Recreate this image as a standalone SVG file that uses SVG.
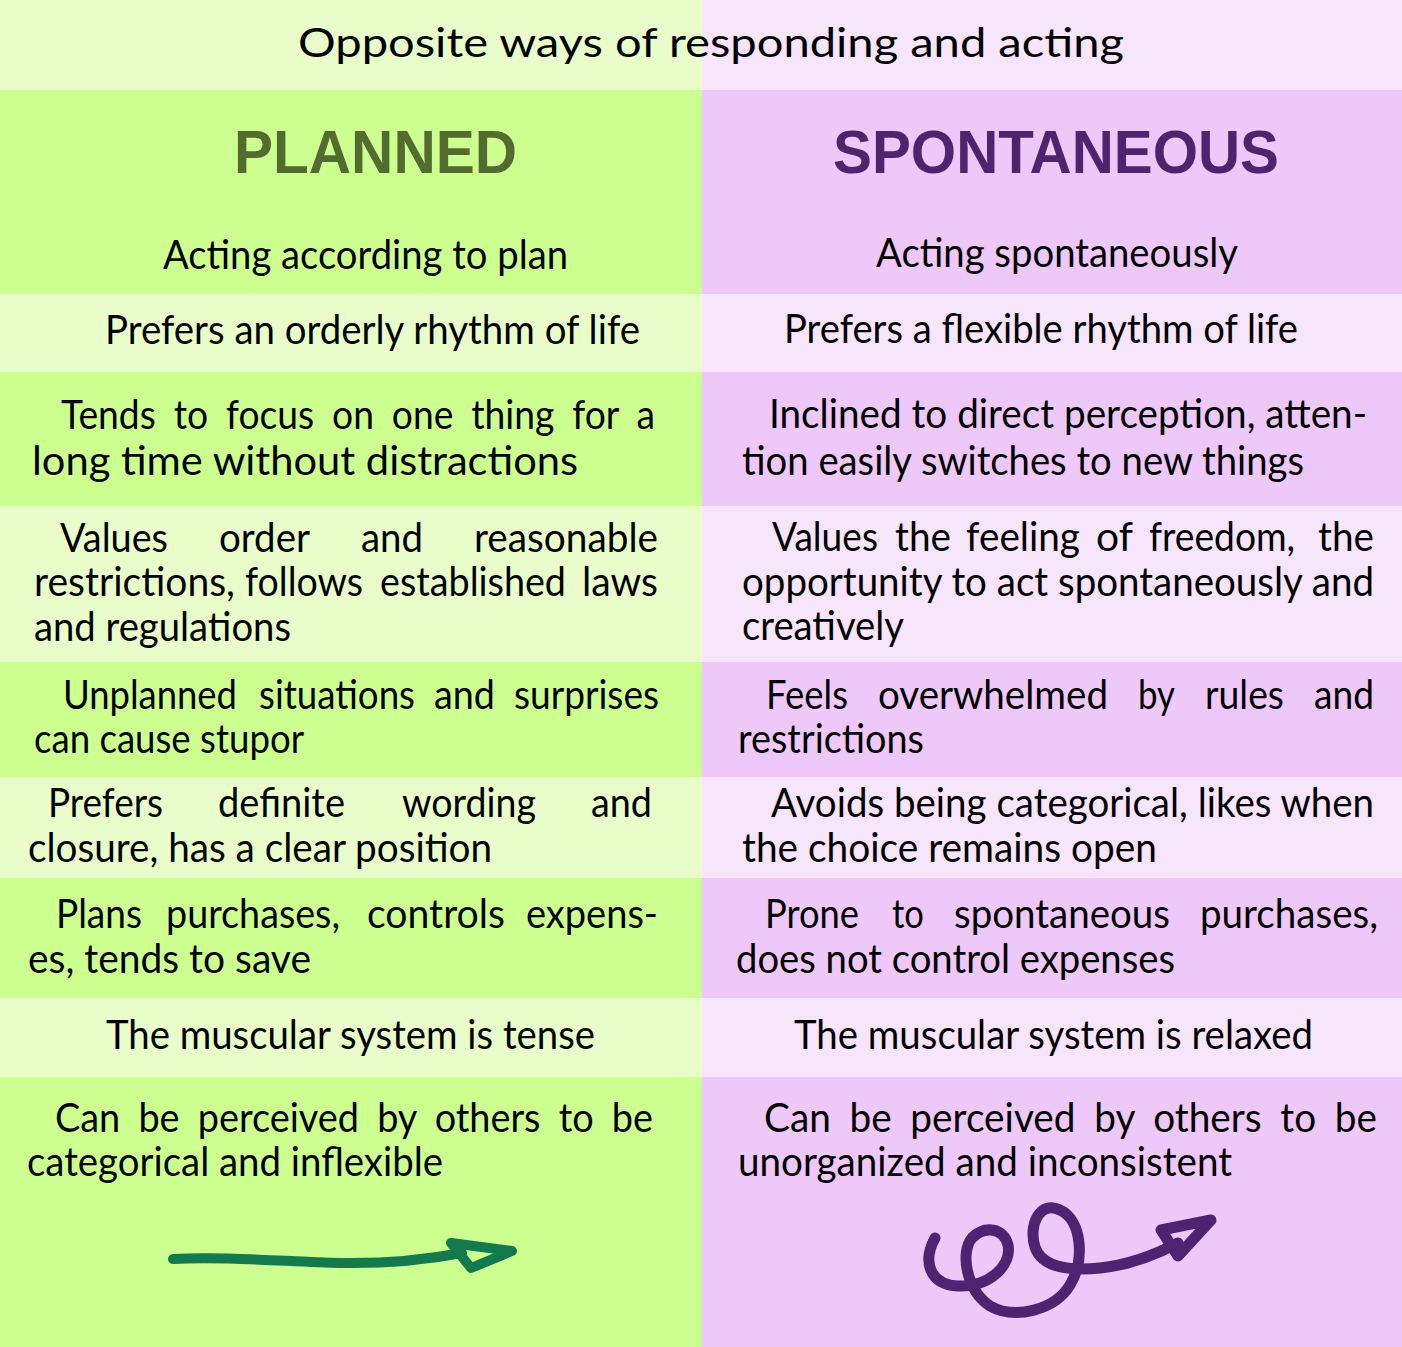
<svg xmlns="http://www.w3.org/2000/svg" width="1402" height="1347" viewBox="0 0 1402 1347">
<style>
.lg{fill:#E8FDCA}.dg{fill:#CCFF90}.lp{fill:#F7E5FB}.dp{fill:#EDC8F9}
text{font-family:Lato,"Open Sans","DejaVu Sans",sans-serif;font-size:40px;fill:#000}
.hd{font-family:"Liberation Sans",Arial,sans-serif;font-weight:bold;font-size:61px}
.gt{fill:#546B30}.pt{fill:#50236F}
.ws{word-spacing:9px}
</style>
<g id="title">
<rect class="lg" x="0" y="0" width="702" height="90"/>
<rect class="lp" x="702" y="0" width="700" height="90"/>
<text x="298" y="57" textLength="826" lengthAdjust="spacingAndGlyphs">Opposite ways of responding and acting</text>
</g>
<g id="planned-header">
<rect class="dg" x="0" y="90" width="702" height="204"/>
<text class="hd gt" x="234" y="173" textLength="283" lengthAdjust="spacingAndGlyphs">PLANNED</text>
<text x="163" y="269" textLength="405" lengthAdjust="spacingAndGlyphs">Acting according to plan</text>
</g>
<g id="spontaneous-header">
<rect class="dp" x="702" y="90" width="700" height="204"/>
<text class="hd pt" x="833" y="173" textLength="446" lengthAdjust="spacingAndGlyphs">SPONTANEOUS</text>
<text x="876" y="267" textLength="362" lengthAdjust="spacingAndGlyphs">Acting spontaneously</text>
</g>
<g id="p1">
<rect class="lg" x="0" y="294" width="702" height="78"/>
<text x="105" y="344" textLength="535" lengthAdjust="spacingAndGlyphs">Prefers an orderly rhythm of life</text>
</g>
<g id="s1">
<rect class="lp" x="702" y="294" width="700" height="78"/>
<text x="784" y="343" textLength="514" lengthAdjust="spacingAndGlyphs">Prefers a flexible rhythm of life</text>
</g>
<g id="p2">
<rect class="dg" x="0" y="372" width="702" height="134"/>
<text class="ws" x="61" y="429" textLength="594" lengthAdjust="spacingAndGlyphs">Tends to focus on one thing for a</text>
<text x="32" y="475" textLength="546" lengthAdjust="spacingAndGlyphs">long time without distractions</text>
</g>
<g id="s2">
<rect class="dp" x="702" y="372" width="700" height="134"/>
<text x="769" y="428" textLength="598" lengthAdjust="spacingAndGlyphs">Inclined to direct perception, atten-</text>
<text x="742" y="475" textLength="562" lengthAdjust="spacingAndGlyphs">tion easily switches to new things</text>
</g>
<g id="p3">
<rect class="lg" x="0" y="506" width="702" height="156"/>
<text x="60" y="552" textLength="108" lengthAdjust="spacingAndGlyphs">Values</text>
<text x="219" y="552" textLength="91" lengthAdjust="spacingAndGlyphs">order</text>
<text x="361" y="552" textLength="62" lengthAdjust="spacingAndGlyphs">and</text>
<text x="474" y="552" textLength="184" lengthAdjust="spacingAndGlyphs">reasonable</text>
<text x="34" y="596" textLength="201" lengthAdjust="spacingAndGlyphs">restrictions,</text>
<text x="245" y="596" textLength="118" lengthAdjust="spacingAndGlyphs">follows</text>
<text x="380" y="596" textLength="186" lengthAdjust="spacingAndGlyphs">established</text>
<text x="582" y="596" textLength="76" lengthAdjust="spacingAndGlyphs">laws</text>
<text x="34" y="641" textLength="257" lengthAdjust="spacingAndGlyphs">and regulations</text>
</g>
<g id="s3">
<rect class="lp" x="702" y="506" width="700" height="156"/>
<text x="772" y="551" textLength="106" lengthAdjust="spacingAndGlyphs">Values</text>
<text x="895" y="551" textLength="56" lengthAdjust="spacingAndGlyphs">the</text>
<text x="966" y="551" textLength="114" lengthAdjust="spacingAndGlyphs">feeling</text>
<text x="1096" y="551" textLength="37" lengthAdjust="spacingAndGlyphs">of</text>
<text x="1149" y="551" textLength="146" lengthAdjust="spacingAndGlyphs">freedom,</text>
<text x="1318" y="551" textLength="56" lengthAdjust="spacingAndGlyphs">the</text>
<text x="742" y="596" textLength="632" lengthAdjust="spacingAndGlyphs">opportunity to act spontaneously and</text>
<text x="742" y="640" textLength="162" lengthAdjust="spacingAndGlyphs">creatively</text>
</g>
<g id="p4">
<rect class="dg" x="0" y="662" width="702" height="115"/>
<text x="63" y="709" textLength="174" lengthAdjust="spacingAndGlyphs">Unplanned</text>
<text x="259" y="709" textLength="156" lengthAdjust="spacingAndGlyphs">situations</text>
<text x="434" y="709" textLength="61" lengthAdjust="spacingAndGlyphs">and</text>
<text x="514" y="709" textLength="145" lengthAdjust="spacingAndGlyphs">surprises</text>
<text x="34" y="753" textLength="270" lengthAdjust="spacingAndGlyphs">can cause stupor</text>
</g>
<g id="s4">
<rect class="dp" x="702" y="662" width="700" height="115"/>
<text x="766" y="709" textLength="82" lengthAdjust="spacingAndGlyphs">Feels</text>
<text x="878" y="709" textLength="230" lengthAdjust="spacingAndGlyphs">overwhelmed</text>
<text x="1138" y="709" textLength="37" lengthAdjust="spacingAndGlyphs">by</text>
<text x="1205" y="709" textLength="79" lengthAdjust="spacingAndGlyphs">rules</text>
<text x="1314" y="709" textLength="60" lengthAdjust="spacingAndGlyphs">and</text>
<text x="738" y="753" textLength="186" lengthAdjust="spacingAndGlyphs">restrictions</text>
</g>
<g id="p5">
<rect class="lg" x="0" y="777" width="702" height="101"/>
<text x="48" y="817" textLength="115" lengthAdjust="spacingAndGlyphs">Prefers</text>
<text x="218" y="817" textLength="127" lengthAdjust="spacingAndGlyphs">definite</text>
<text x="402" y="817" textLength="134" lengthAdjust="spacingAndGlyphs">wording</text>
<text x="591" y="817" textLength="61" lengthAdjust="spacingAndGlyphs">and</text>
<text x="28" y="862" textLength="464" lengthAdjust="spacingAndGlyphs">closure, has a clear position</text>
</g>
<g id="s5">
<rect class="lp" x="702" y="777" width="700" height="101"/>
<text x="771" y="817" textLength="603" lengthAdjust="spacingAndGlyphs">Avoids being categorical, likes when</text>
<text x="742" y="862" textLength="415" lengthAdjust="spacingAndGlyphs">the choice remains open</text>
</g>
<g id="p6">
<rect class="dg" x="0" y="878" width="702" height="120"/>
<text x="56" y="928" textLength="86" lengthAdjust="spacingAndGlyphs">Plans</text>
<text x="166" y="928" textLength="174" lengthAdjust="spacingAndGlyphs">purchases,</text>
<text x="367" y="928" textLength="138" lengthAdjust="spacingAndGlyphs">controls</text>
<text x="526" y="928" textLength="132" lengthAdjust="spacingAndGlyphs">expens-</text>
<text x="28" y="973" textLength="283" lengthAdjust="spacingAndGlyphs">es, tends to save</text>
</g>
<g id="s6">
<rect class="dp" x="702" y="878" width="700" height="120"/>
<text x="765" y="928" textLength="94" lengthAdjust="spacingAndGlyphs">Prone</text>
<text x="892" y="928" textLength="32" lengthAdjust="spacingAndGlyphs">to</text>
<text x="954" y="928" textLength="216" lengthAdjust="spacingAndGlyphs">spontaneous</text>
<text x="1200" y="928" textLength="178" lengthAdjust="spacingAndGlyphs">purchases,</text>
<text x="736" y="973" textLength="439" lengthAdjust="spacingAndGlyphs">does not control expenses</text>
</g>
<g id="p7">
<rect class="lg" x="0" y="998" width="702" height="79"/>
<text x="106" y="1049" textLength="489" lengthAdjust="spacingAndGlyphs">The muscular system is tense</text>
</g>
<g id="s7">
<rect class="lp" x="702" y="998" width="700" height="79"/>
<text x="794" y="1049" textLength="519" lengthAdjust="spacingAndGlyphs">The muscular system is relaxed</text>
</g>
<g id="p8">
<rect class="dg" x="0" y="1077" width="702" height="270"/>
<text class="ws" x="55" y="1132" textLength="598" lengthAdjust="spacingAndGlyphs">Can be perceived by others to be</text>
<text x="27" y="1176" textLength="416" lengthAdjust="spacingAndGlyphs">categorical and inflexible</text>
</g>
<g id="s8">
<rect class="dp" x="702" y="1077" width="700" height="270"/>
<text class="ws" x="764" y="1132" textLength="613" lengthAdjust="spacingAndGlyphs">Can be perceived by others to be</text>
<text x="738" y="1176" textLength="494" lengthAdjust="spacingAndGlyphs">unorganized and inconsistent</text>
</g>
<g id="connectors" fill="none" stroke-linecap="round" stroke-linejoin="round">
<g id="straight-arrow" stroke="#127A4C">
<path d="M173,1259 C230,1256 290,1262 340,1263 C390,1264 430,1259 462,1253" stroke-width="10"/>
<path d="M451,1243 L512,1251 L471,1268 Z" stroke-width="10"/>
</g>
<g id="squiggle-arrow" stroke="#4F2272">
<path d="M935,1238 C922,1262 930,1285 958,1286 C990,1287 1012,1265 1008,1245 C1004,1228 985,1225 972,1238 C960,1252 966,1290 990,1306 C1015,1320 1055,1310 1070,1285 C1085,1260 1082,1220 1060,1210 C1040,1200 1028,1225 1035,1247 C1042,1268 1070,1271 1100,1268 C1130,1265 1155,1255 1178,1243" stroke-width="11"/>
<path d="M1161,1230 L1211,1220 L1178,1256 Z" stroke-width="11"/>
</g>
</g>
</svg>
